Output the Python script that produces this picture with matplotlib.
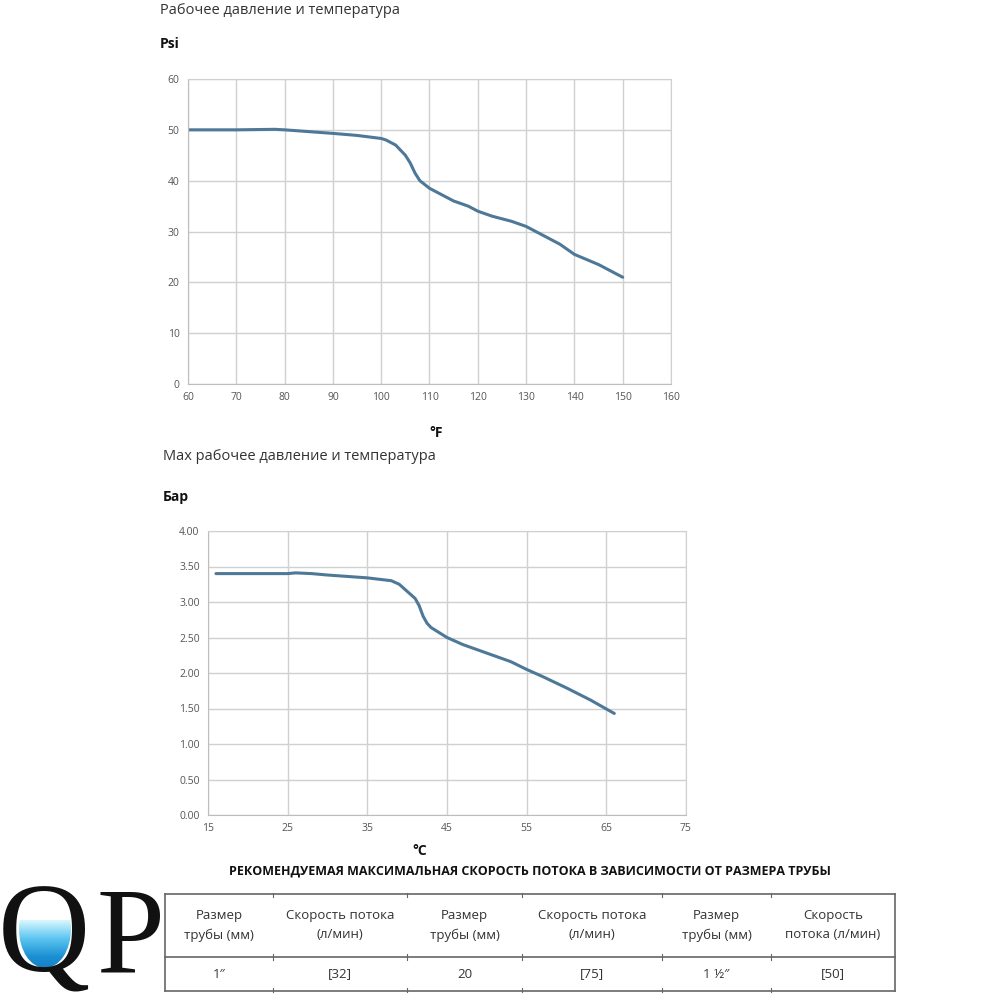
import matplotlib
matplotlib.use("Agg")
import matplotlib.pyplot as plt
import numpy as np
from matplotlib.patches import Ellipse
from matplotlib.colors import LinearSegmentedColormap

plt.rcParams['font.family'] = ['Open Sans', 'DejaVu Sans']

# ---- data ----
temp_f = [60, 70, 78, 80, 90, 95, 100, 101, 103, 105, 106, 107, 108, 110, 112, 115,
          118, 120, 123, 127, 130, 134, 137, 140, 145, 150]
psi = [50, 50, 50.1, 50, 49.3, 48.9, 48.3, 48, 47, 45, 43.5, 41.5, 40, 38.5, 37.5, 36,
       35, 34, 33, 32, 31, 29, 27.5, 25.5, 23.5, 21]
temp_c = [16, 20, 25, 26, 28, 30, 35, 38, 39, 40, 41, 41.5, 42, 42.5, 43, 45, 47, 50,
          53, 55, 57, 60, 63, 66]
bar = [3.40, 3.40, 3.40, 3.41, 3.40, 3.38, 3.34, 3.30, 3.25, 3.15, 3.05, 2.95, 2.80,
       2.70, 2.64, 2.50, 2.40, 2.28, 2.16, 2.05, 1.95, 1.79, 1.62, 1.43]
f_ticks = list(range(60, 161, 10))
psi_ticks = list(range(0, 61, 10))
c_ticks = list(range(15, 76, 10))
bar_ticks = [0.0, 0.5, 1.0, 1.5, 2.0, 2.5, 3.0, 3.5, 4.0]

table_headers = ["Размер\nтрубы (мм)", "Скорость потока\n(л/мин)", "Размер\nтрубы (мм)",
                 "Скорость потока\n(л/мин)", "Размер\nтрубы (мм)", "Скорость\nпотока (л/мин)"]
table_values = ["1\u2033", "[32]", "20", "[75]", "1 \u00bd\u2033", "[50]"]

line_color = "#4e7897"
grid_color = "#d0d0d0"
tick_color = "#555555"

fig = plt.figure(figsize=(10, 10), dpi=100)

def style(ax):
    ax.grid(True, color=grid_color, linewidth=1.0)
    ax.set_axisbelow(True)
    for s in ax.spines.values():
        s.set_color(grid_color)
    ax.spines['left'].set_color("#bdbdbd")
    ax.spines['bottom'].set_color("#bdbdbd")
    ax.tick_params(length=0, labelsize=7.5, labelcolor=tick_color, pad=6)

# top chart
ax1 = fig.add_axes([0.188, 0.616, 0.483, 0.305])
ax1.plot(temp_f, psi, color=line_color, linewidth=2.2, solid_capstyle='round')
ax1.set_xlim(60, 160)
ax1.set_ylim(0, 60)
ax1.set_xticks(f_ticks)
ax1.set_yticks(psi_ticks)
style(ax1)

# bottom chart
ax2 = fig.add_axes([0.208, 0.185, 0.478, 0.284])
ax2.plot(temp_c, bar, color=line_color, linewidth=2.2, solid_capstyle='round')
ax2.set_xlim(15, 75)
ax2.set_ylim(0, 4)
ax2.set_xticks(c_ticks)
ax2.set_yticks(bar_ticks)
ax2.set_yticklabels([f"{v:.2f}" for v in bar_ticks])
style(ax2)

# overlay in pixel coordinates
ov = fig.add_axes([0, 0, 1, 1], zorder=5)
ov.axis('off')
ov.patch.set_alpha(0)

ov.text(160, 11, "Рабочее давление и температура", fontsize=10.5, color="#333333", va='center')
ov.text(160, 44, "Psi", fontsize=10, fontweight='bold', color="#111111", va='center')
ov.text(436, 433, "°F", fontsize=10, fontweight='bold', color="#111111", va='center', ha='center')
ov.text(163, 457, "Max рабочее давление и температура", fontsize=10.5, color="#333333", va='center')
ov.text(163, 497, "Бар", fontsize=10, fontweight='bold', color="#111111", va='center')
ov.text(420, 851, "°C", fontsize=10, fontweight='bold', color="#111111", va='center', ha='center')

ov.text(530, 871, "РЕКОМЕНДУЕМАЯ МАКСИМАЛЬНАЯ СКОРОСТЬ ПОТОКА В ЗАВИСИМОСТИ ОТ РАЗМЕРА ТРУБЫ",
        fontsize=9, fontweight='bold', color="#111111", va='center', ha='center')

# table
tl, tr, tt, tm, tb = 165, 895, 894, 957, 991
col_edges = [165, 273, 407, 522, 662, 771, 895]
tc = "#666666"
ov.plot([tl, tr], [tt, tt], color=tc, lw=1.2)
ov.plot([tl, tr], [tm, tm], color=tc, lw=1.2)
ov.plot([tl, tr], [tb, tb], color=tc, lw=1.2)
ov.plot([tl, tl], [tt, tb], color=tc, lw=1.2)
ov.plot([tr, tr], [tt, tb], color=tc, lw=1.2)
for x in col_edges[1:-1]:
    ov.plot([x, x], [tt - 1, tt + 3], color=tc, lw=0.8)
    ov.plot([x, x], [tm - 3, tm + 3], color=tc, lw=0.8)
    ov.plot([x, x], [tb - 3, tb + 1], color=tc, lw=0.8)
for i, (h, v) in enumerate(zip(table_headers, table_values)):
    cx = (col_edges[i] + col_edges[i + 1]) / 2
    ov.text(cx, (tt + tm) / 2, h, fontsize=9.5, color="#333333", ha='center', va='center',
            linespacing=1.6)
    ov.text(cx, (tm + tb) / 2, v, fontsize=9.5, color="#333333", ha='center', va='center')

# logo
grad = np.linspace(0, 1, 100).reshape(-1, 1)
cmap = LinearSegmentedColormap.from_list("water", ["#d8f6ff", "#5cc6f0", "#1b8fd2", "#1578bf"])
im = ov.imshow(grad, extent=(5, 95, 975, 920), cmap=cmap, aspect='auto', zorder=1)
clip = Ellipse((45, 929), 52, 78, transform=ov.transData)
ov.add_patch(clip)
clip.set_visible(False)
im.set_clip_path(clip)
ov.text(-2, 972, "Q", fontsize=92, family=['Liberation Serif', 'DejaVu Serif'],
        color="#111111", va='baseline', ha='left', zorder=3)
ov.text(97, 972, "P", fontsize=88, family=['Liberation Serif', 'DejaVu Serif'],
        color="#111111", va='baseline', ha='left', zorder=3)
ov.set_xlim(0, 1000)
ov.set_ylim(1000, 0)

fig.savefig("out.png", dpi=100, facecolor="white")
